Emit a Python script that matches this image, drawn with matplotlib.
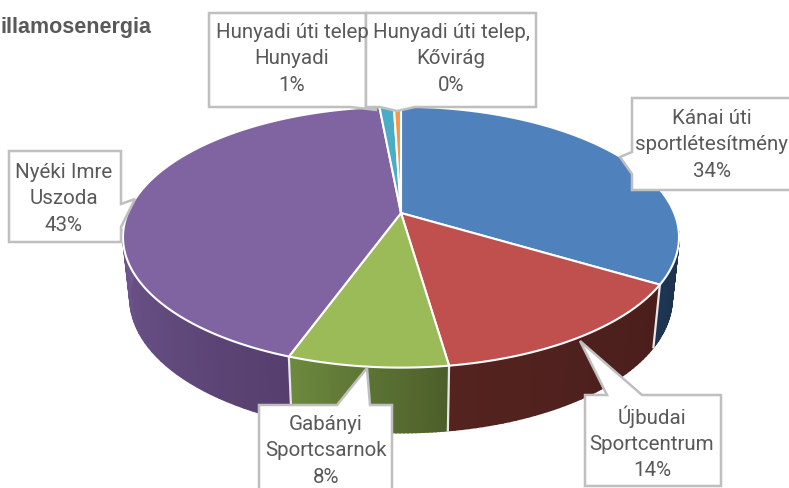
import numpy as np
import matplotlib
matplotlib.use("Agg")
import matplotlib.pyplot as plt
from matplotlib.patches import Polygon

# Share of each site, clockwise from the top of the pie
sites = ["Kánai úti\nsportlétesítmény", "Újbudai\nSportcentrum", "Gabányi\nSportcsarnok",
         "Nyéki Imre\nUszoda", "Hunyadi úti telep\nHunyadi", "Hunyadi úti telep,\nKővirág"]
shares = [33.6, 14.1, 7.8, 43.0, 1.0, 0.49]
percent_labels = ["34%", "14%", "8%", "43%", "1%", "0%"]

top_colors = ["#4f81bd", "#c0504d", "#9bbb59", "#8064a2", "#4bacc6", "#f79646"]
wall_left = ["#1d3654", "#54231f", "#6c8a3e", "#735b94", "#3a8296", "#c07030"]
wall_right = ["#1b3048", "#4a1e1c", "#4c5e2a", "#563f6e", "#3a8296", "#c07030"]

# Geometry of the perspective pie, in pixels
CX, CY = 401, 214
RX, RY = 273.2, 126
K = 0.185


def rim(theta):
    w = 1 + K * np.sin(theta)
    return CX + RX * np.cos(theta) / w, CY - RY * np.sin(theta) / w


def floor(theta):
    x, y = rim(theta)
    return CX + (x - CX) * 0.975, y + 60 - 5 * np.sin(theta)


def hex_rgb(c):
    return np.array(matplotlib.colors.to_rgb(c))


fig = plt.figure(figsize=(7.89, 4.89), dpi=100)
ax = fig.add_axes([0, 0, 1, 1])
ax.set_xlim(0, 789)
ax.set_ylim(489, 0)
ax.axis("off")

fractions = np.array(shares) / sum(shares)
edges = np.pi / 2 - 2 * np.pi * np.concatenate([[0], np.cumsum(fractions)])

# Side wall, built from thin strips so the shading can run across it
wall_from, wall_to = np.radians(-8), np.radians(-188)
for i in range(len(shares)):
    a0 = min(edges[i], wall_from)
    a1 = max(edges[i + 1], wall_to)
    if a0 <= a1:
        continue
    steps = np.linspace(a0, a1, 41)
    for j in range(40):
        t = np.linspace(steps[j], steps[j + 1], 4)
        c = hex_rgb(wall_left[i]) + (hex_rgb(wall_right[i]) - hex_rgb(wall_left[i])) * (1 - (j + 0.5) / 40)
        xs, ys = rim(t)
        xb, yb = floor(t)
        ax.fill(np.r_[xs, xb[::-1]], np.r_[ys, yb[::-1]], color=c, lw=1.2, zorder=2)
    # white seam where two wedges meet on the wall
    if a0 == edges[i] and i > 0:
        xa, ya = rim(a0)
        xb, yb = floor(a0)
        ax.plot([xa, xb], [ya, yb], color="#e8e8e8", lw=1.6, zorder=3)

# Top face
for i in range(len(shares)):
    t = np.linspace(edges[i], edges[i + 1], 200)
    xs, ys = rim(t)
    ax.fill(np.r_[CX, xs], np.r_[CY, ys], facecolor=top_colors[i], edgecolor="white",
            lw=1.5, joinstyle="round", zorder=4)

# Data label callouts: box (left, top, right, bottom), side of pointer, pointer base, tip
callouts = [
    (0, (632, 99, 800, 191), "left", (153, 175), (620, 158), (712, 145)),
    (1, (585, 396, 721, 487), "top", (607, 642), (580, 342), (652, 443)),
    (2, (259, 406, 392, 500), "top", (337, 370), (367, 369), (326, 451)),
    (3, (9, 152, 121, 243), "right", (205, 228), (135, 200), (64, 199)),
    (4, (209, 14, 366, 108), "bottom", (350, 366), (377, 111), (292, 59)),
    (5, (366, 14, 536, 108), "bottom", (380, 415), (397, 112), (451, 59)),
]
for n, (i, (l, t, r, b), side, base, tip, centre) in enumerate(callouts):
    if side == "left":
        pts = [(l, t), (r, t), (r, b), (l, b), (l, base[1]), tip, (l, base[0])]
    elif side == "right":
        pts = [(l, t), (r, t), (r, base[0]), tip, (r, base[1]), (r, b), (l, b)]
    elif side == "top":
        pts = [(l, t), (base[0], t), tip, (base[1], t), (r, t), (r, b), (l, b)]
    else:
        pts = [(l, t), (r, t), (r, b), (base[1], b), tip, (base[0], b), (l, b)]
    ax.add_patch(Polygon(pts, closed=True, facecolor="white", edgecolor="#bfbfbf",
                         lw=1.8, joinstyle="miter", zorder=5 + n * 0.1))
    ax.text(centre[0], centre[1], sites[i] + "\n" + percent_labels[i], ha="center", va="center",
            family="Roboto", fontsize=14.8, color="#595959",
            linespacing=1.48, zorder=6 + n * 0.1)

ax.text(1, 28, "illamosenergia", ha="left", va="center", family="Liberation Sans",
        fontweight="bold", fontsize=15.5, color="#595959", zorder=6)

fig.savefig("out.png", dpi=100)
